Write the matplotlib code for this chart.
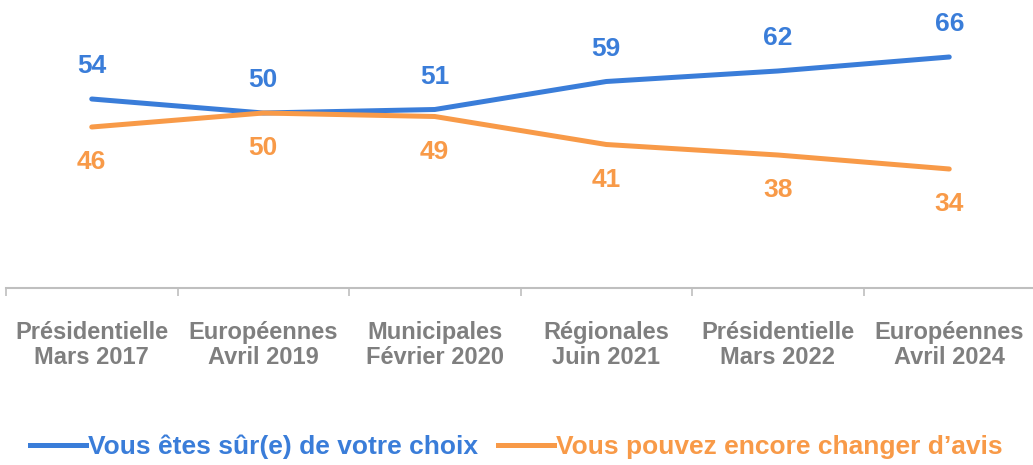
import matplotlib.pyplot as plt
from matplotlib.lines import Line2D

# chart data
categories = ['Présidentielle\nMars 2017', 'Européennes\nAvril 2019', 'Municipales\nFévrier 2020',
              'Régionales\nJuin 2021', 'Présidentielle\nMars 2022', 'Européennes\nAvril 2024']
sure = [54, 50, 51, 59, 62, 66]
change = [46, 50, 49, 41, 38, 34]
series_names = ['Vous êtes sûr(e) de votre choix', 'Vous pouvez encore changer d\u2019avis']

BLUE = '#3a7dd9'
ORANGE = '#f89a48'
GREY = '#7f7f7f'
FONT = ['Liberation Sans', 'DejaVu Sans']

plt.rcParams['font.family'] = FONT

fig = plt.figure(figsize=(10.33, 4.65), dpi=100)
ax = fig.add_axes([6 / 1033, 1 - 288 / 465, 1029 / 1033, 288 / 465])

x = list(range(len(categories)))
ax.plot(x, sure, color=BLUE, lw=3.6, solid_capstyle='round')
ax.plot(x, change, color=ORANGE, lw=3.6, solid_capstyle='round')

for i in x:
    ax.annotate(str(sure[i]), (i, sure[i]), xytext=(0, 33), textcoords='offset pixels',
                ha='center', va='center', color=BLUE, fontsize=19, fontweight='bold')
    ax.annotate(str(change[i]), (i, change[i]), xytext=(0, -35), textcoords='offset pixels',
                ha='center', va='center', color=ORANGE, fontsize=19, fontweight='bold')

ax.set_xlim(-0.5, len(categories) - 0.5)
ax.set_ylim(0, 288 / 3.5)

# category boundaries as major ticks, labels on minor ticks
ax.set_xticks([i - 0.5 for i in range(len(categories) + 1)])
ax.set_xticklabels([])
ax.set_xticks(x, minor=True)
ax.set_xticklabels(categories, minor=True, fontsize=17, fontweight='bold', color=GREY, linespacing=1.1)
ax.tick_params(axis='x', which='major', length=6, width=1.2, color='#bfbfbf', direction='out')
ax.tick_params(axis='x', which='minor', length=0, pad=24)
ax.set_yticks([])

for s in ['top', 'right', 'left']:
    ax.spines[s].set_visible(False)
ax.spines['bottom'].set_color('#bfbfbf')
ax.spines['bottom'].set_linewidth(1.5)

handles = [Line2D([], [], color=BLUE, lw=3.6), Line2D([], [], color=ORANGE, lw=3.6)]
fig.legend(handles, series_names, loc='center', bbox_to_anchor=(0.5, 1 - 447 / 465), ncol=2,
           frameon=False, labelcolor='linecolor', handlelength=2.1, handletextpad=0.1,
           columnspacing=0.75, prop={'weight': 'bold', 'size': 19})

fig.savefig('out.png', dpi=100)
